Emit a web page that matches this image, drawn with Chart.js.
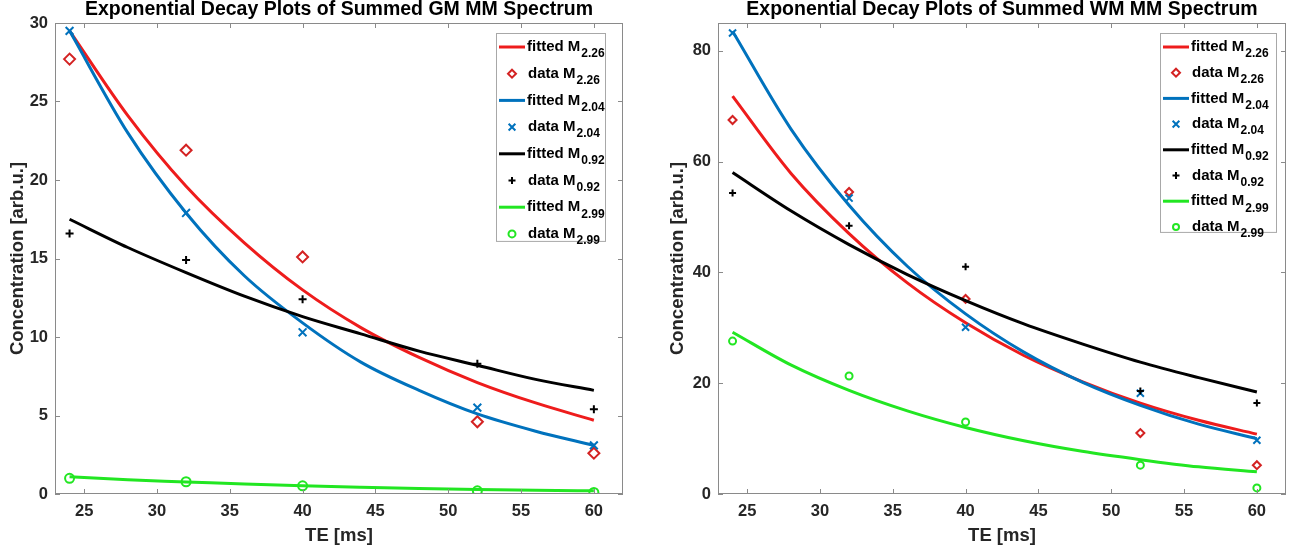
<!DOCTYPE html>
<html>
<head>
<meta charset="utf-8">
<script src="https://cdn.jsdelivr.net/npm/chart.js@4.4.1/dist/chart.umd.min.js"></script>
<style>
html, body { margin: 0; padding: 0; background: #fff; }
#wrap { position: relative; width: 1301px; height: 554px; }
#gmBox { position: absolute; left: 0; top: 0; width: 650px; height: 554px; }
#wmBox { position: absolute; left: 650px; top: 0; width: 651px; height: 554px; }
</style>
</head>
<body>
<div id="wrap">
  <div id="gmBox"><canvas id="gmChart"></canvas></div>
  <div id="wmBox"><canvas id="wmChart"></canvas></div>
</div>
<script>
// echo times of the measured points and of the fitted curves
const te = [24, 32, 40, 52, 60];
const teFit = [24, 28, 32, 36, 40, 44, 48, 52, 56, 60];
const xTicks = [25, 30, 35, 40, 45, 50, 55, 60];
const peaks = ['2.26', '2.04', '0.92', '2.99'];

// GM (left)
const gmData226 = [27.7, 21.9, 15.1, 4.6, 2.6];
const gmData204 = [29.5, 17.9, 10.3, 5.5, 3.1];
const gmData092 = [16.6, 14.9, 12.4, 8.3, 5.4];
const gmData299 = [1.0, 0.78, 0.52, 0.2, 0.1];
const gmFit226 = [29.5, 24.1, 19.6, 16.0, 13.0, 10.6, 8.7, 7.1, 5.8, 4.7];
const gmFit204 = [29.5, 23.0, 17.9, 13.9, 10.9, 8.4, 6.6, 5.1, 4.0, 3.1];
const gmFit092 = [17.5, 15.7, 14.1, 12.6, 11.3, 10.2, 9.1, 8.2, 7.3, 6.6];
const gmFit299 = [1.1, 0.9, 0.77, 0.63, 0.52, 0.43, 0.35, 0.29, 0.24, 0.2];
const gmYTicks = [0, 5, 10, 15, 20, 25, 30];

// WM (right)
const wmData226 = [67.5, 54.5, 35.2, 11.0, 5.2];
const wmData204 = [83.2, 53.4, 30.1, 18.2, 9.7];
const wmData092 = [54.3, 48.4, 41.0, 18.6, 16.4];
const wmData299 = [27.6, 21.3, 13.0, 5.2, 1.1];
const wmFit226 = [71.8, 57.9, 47.0, 38.1, 30.9, 25.0, 20.3, 16.4, 13.3, 10.8];
const wmFit204 = [83.5, 65.9, 52.1, 41.1, 32.5, 25.6, 20.2, 16.0, 12.6, 10.0];
const wmFit092 = [58.0, 51.1, 45.0, 39.6, 34.9, 30.7, 27.1, 23.8, 21.0, 18.4];
const wmFit299 = [29.2, 23.3, 18.7, 15.0, 12.0, 9.6, 7.7, 6.2, 4.9, 4.0];
const wmYTicks = [0, 20, 40, 60, 80];

const colors = ['#ee1c1c', '#0072bd', '#000000', '#22e622'];
const markerColors = ['#d42222', '#0072bd', '#000000', '#22e622'];
const markers = ['rectRot', 'crossRot', 'cross', 'circle'];
const frameColor = '#8a8a8a';
const tickColor = '#262626';
const FONT = '"Liberation Sans", Arial, Helvetica, sans-serif';

function pts(xs, ys) {
    return xs.map((x, i) => ({ x: x, y: ys[i] }));
}

function buildDatasets(fits, datas, sizes) {
    const out = [];
    fits.forEach((f, i) => {
        out.push({
            label: 'fitted M' + peaks[i],
            data: pts(teFit, f),
            showLine: true,
            cubicInterpolationMode: 'monotone',
            borderColor: colors[i],
            backgroundColor: colors[i],
            borderWidth: 3,
            pointRadius: 0,
            order: 10 - i * 2
        });
        out.push({
            label: 'data M' + peaks[i],
            data: pts(te, datas[i]),
            showLine: false,
            pointStyle: markers[i],
            pointRadius: sizes[i],
            pointHoverRadius: sizes[i],
            pointBorderWidth: 2,
            borderColor: markerColors[i],
            backgroundColor: 'rgba(0,0,0,0)',
            order: 9 - i * 2
        });
    });
    return out;
}

function drawMarker(ctx, style, x, y, r) {
    ctx.beginPath();
    if (style === 'rectRot') {
        ctx.moveTo(x, y - r); ctx.lineTo(x + r, y); ctx.lineTo(x, y + r); ctx.lineTo(x - r, y); ctx.closePath();
    } else if (style === 'crossRot') {
        const d = r * 0.75;
        ctx.moveTo(x - d, y - d); ctx.lineTo(x + d, y + d); ctx.moveTo(x + d, y - d); ctx.lineTo(x - d, y + d);
    } else if (style === 'cross') {
        ctx.moveTo(x - r, y); ctx.lineTo(x + r, y); ctx.moveTo(x, y - r); ctx.lineTo(x, y + r);
    } else {
        ctx.arc(x, y, r, 0, Math.PI * 2);
    }
    ctx.stroke();
}

const matlabLook = {
    id: 'matlabLook',
    afterDatasetsDraw(chart, args, opts) {
        const { ctx, chartArea: a, scales } = chart;
        ctx.save();
        // box + inward ticks
        ctx.strokeStyle = frameColor;
        ctx.lineWidth = 1;
        ctx.strokeRect(a.left + 0.5, a.top + 0.5, a.right - a.left - 1, a.bottom - a.top - 1);
        ctx.beginPath();
        scales.x.ticks.forEach(t => {
            const px = Math.round(scales.x.getPixelForValue(t.value)) + 0.5;
            ctx.moveTo(px, a.bottom); ctx.lineTo(px, a.bottom - 5);
            ctx.moveTo(px, a.top); ctx.lineTo(px, a.top + 5);
        });
        scales.y.ticks.forEach(t => {
            const py = Math.round(scales.y.getPixelForValue(t.value)) + 0.5;
            ctx.moveTo(a.left, py); ctx.lineTo(a.left + 5, py);
            ctx.moveTo(a.right, py); ctx.lineTo(a.right - 5, py);
        });
        ctx.stroke();

        // title
        ctx.fillStyle = '#000';
        ctx.font = 'bold 19.5px ' + FONT;
        ctx.textAlign = 'center';
        ctx.textBaseline = 'middle';
        ctx.fillText(opts.title, (a.left + a.right) / 2, 10);

        // legend
        const lg = opts.legend;
        const bx = a.right - lg.gapRight - lg.width;
        const by = a.top + lg.gapTop;
        const bh = lg.first + lg.rowH * 7 + lg.bottom;
        ctx.fillStyle = '#fff';
        ctx.fillRect(bx, by, lg.width, bh);
        ctx.strokeStyle = '#a8a8a8';
        ctx.lineWidth = 1;
        ctx.strokeRect(bx + 0.5, by + 0.5, lg.width - 1, bh - 1);
        peaks.forEach((p, i) => {
            for (let k = 0; k < 2; k++) {
                const y = by + lg.first + lg.rowH * (i * 2 + k);
                let tx;
                ctx.lineWidth = k === 0 ? 3 : 2;
                if (k === 0) {
                    ctx.strokeStyle = colors[i];
                    ctx.beginPath();
                    ctx.moveTo(bx + 3, y); ctx.lineTo(bx + 29, y);
                    ctx.stroke();
                    tx = bx + 31;
                } else {
                    ctx.strokeStyle = markerColors[i];
                    drawMarker(ctx, markers[i], bx + 16, y, lg.mark[i]);
                    tx = bx + 32;
                }
                const main = (k === 0 ? 'fitted' : 'data') + ' M';
                ctx.fillStyle = '#000';
                ctx.textAlign = 'left';
                ctx.textBaseline = 'middle';
                ctx.font = 'bold 15px ' + FONT;
                ctx.fillText(main, tx, y);
                const w = ctx.measureText(main).width;
                ctx.font = 'bold 12px ' + FONT;
                ctx.fillText(p, tx + w + 1, y + 7);
            }
        });
        ctx.restore();
    }
};

function makeChart(id, cfg) {
    return new Chart(document.getElementById(id), {
        type: 'scatter',
        data: { datasets: buildDatasets(cfg.fits, cfg.datas, cfg.sizes) },
        options: {
            responsive: true,
            maintainAspectRatio: false,
            animation: false,
            layout: { padding: cfg.padding },
            plugins: {
                legend: { display: false },
                tooltip: { enabled: false },
                matlabLook: { title: cfg.title, legend: cfg.legend }
            },
            scales: {
                x: {
                    type: 'linear',
                    min: 23,
                    max: 62,
                    grid: { display: false, drawTicks: false },
                    border: { display: false },
                    afterBuildTicks: s => { s.ticks = xTicks.map(v => ({ value: v })); },
                    afterFit: s => { s.height = 60; },
                    ticks: {
                        color: tickColor,
                        padding: 8,
                        font: { family: FONT, size: 16.5, weight: 'bold' }
                    },
                    title: {
                        display: true,
                        text: 'TE [ms]',
                        color: '#262626',
                        padding: { top: 7, bottom: 7 },
                        font: { family: FONT, size: 18.5, weight: 'bold' }
                    }
                },
                y: {
                    type: 'linear',
                    min: 0,
                    max: cfg.yMax,
                    grid: { display: false, drawTicks: false },
                    border: { display: false },
                    afterBuildTicks: s => { s.ticks = cfg.yTicks.map(v => ({ value: v })); },
                    afterFit: s => { s.width = cfg.yWidth; },
                    ticks: {
                        color: tickColor,
                        padding: 7,
                        font: { family: FONT, size: 16.5, weight: 'bold' }
                    },
                    title: {
                        display: true,
                        text: 'Concentration [arb.u.]',
                        color: '#262626',
                        padding: { top: 7, bottom: 7 },
                        font: { family: FONT, size: 18.5, weight: 'bold' }
                    }
                }
            }
        },
        plugins: [matlabLook]
    });
}

makeChart('gmChart', {
    title: 'Exponential Decay Plots of Summed GM MM Spectrum',
    fits: [gmFit226, gmFit204, gmFit092, gmFit299],
    datas: [gmData226, gmData204, gmData092, gmData299],
    sizes: [5.5, 5.5, 4, 4.5],
    yMax: 30,
    yTicks: gmYTicks,
    yWidth: 55,
    padding: { top: 23, right: 27, left: 0, bottom: 0 },
    legend: { gapRight: 17, gapTop: 10, width: 110, rowH: 26.7, first: 14, bottom: 8, mark: [4, 4.5, 3.5, 3.5] }
});

makeChart('wmChart', {
    title: 'Exponential Decay Plots of Summed WM MM Spectrum',
    fits: [wmFit226, wmFit204, wmFit092, wmFit299],
    datas: [wmData226, wmData204, wmData092, wmData299],
    sizes: [4, 5, 3.5, 3.5],
    yMax: 85,
    yTicks: wmYTicks,
    yWidth: 58,
    padding: { top: 23, right: 15, left: 10, bottom: 0 },
    legend: { gapRight: 9, gapTop: 10, width: 117, rowH: 25.7, first: 14, bottom: 6, mark: [4, 4.5, 3.5, 3] }
});
</script>
</body>
</html>
